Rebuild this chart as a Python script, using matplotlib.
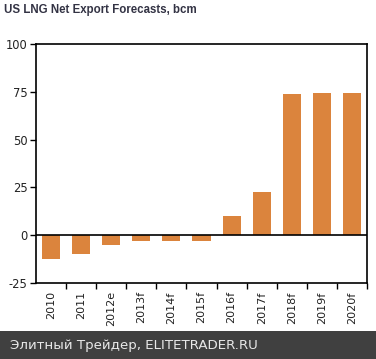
import matplotlib
matplotlib.use("Agg")
import matplotlib.pyplot as plt
from matplotlib.patches import Rectangle
import numpy as np

categories = ["2010", "2011", "2012e", "2013f", "2014f", "2015f", "2016f", "2017f", "2018f", "2019f", "2020f"]
values = [-12.5, -9.7, -5.0, -3.0, -3.0, -3.0, 10.2, 22.6, 73.7, 74.4, 74.4]
yticks = [-25, 0, 25, 50, 75, 100]

W, H = 376, 359
fig = plt.figure(figsize=(W / 100, H / 100), dpi=100)
ax = fig.add_axes([36 / W, 1 - 283 / H, (367 - 36) / W, (283 - 44) / H])

x = np.arange(len(categories))
ax.bar(x, values, width=0.6, color="#DB843D", zorder=2)
ax.axhline(0, color="black", lw=1.2, zorder=3)

ax.set_xlim(-0.5, len(categories) - 0.5)
ax.set_ylim(-25, 100)
ax.set_yticks(yticks)
ax.set_yticklabels([str(v) for v in yticks], fontsize=8.3, color="#222222")
ax.tick_params(axis="y", direction="out", length=4, width=1, pad=2)

ax.set_xticks(x)
ax.set_xticklabels(categories, rotation=90, fontsize=8, color="#222222")
ax.tick_params(axis="x", which="major", length=0, pad=6)
ax.set_xticks(np.arange(0.5, len(categories), 1.0), minor=True)
ax.tick_params(axis="x", which="minor", direction="out", length=4, width=1)

for s in ax.spines.values():
    s.set_linewidth(1.2)
    s.set_color("black")

fig.text(4 / W, 1 - 10 / H, "US LNG Net Export Forecasts, bcm", fontsize=8.3, fontweight="bold",
         family="Liberation Sans", color="#333344", ha="left", va="center")

fig.patches.append(Rectangle((0, 0), 1, 28 / H, transform=fig.transFigure,
                             facecolor="#404040", edgecolor="none", zorder=0))
fig.text(10 / W, 14 / H, "Элитный Трейдер, ELITETRADER.RU", fontsize=9.6,
         color="#e8e8e8", ha="left", va="center")

fig.savefig("out.png", dpi=100)
